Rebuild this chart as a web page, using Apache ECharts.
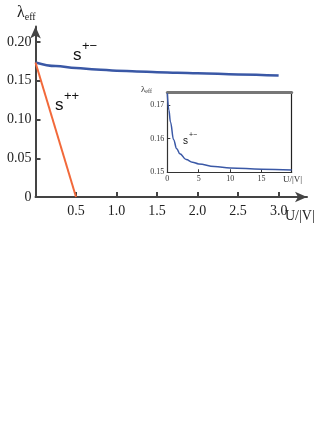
<!DOCTYPE html>
<html>
<head>
<meta charset="utf-8">
<script src="https://cdn.jsdelivr.net/npm/echarts@6/dist/echarts.min.js"></script>
<style>
  html, body { margin: 0; padding: 0; background: #fff; }
  #chart { width: 332px; height: 430px; }
</style>
</head>
<body>
<div id="chart"></div>
<script>
// main panel: lambda_eff vs U/|V|
var mainU = [0, 0.25, 0.5, 0.75, 1.0, 1.25, 1.5, 1.75, 2.0, 2.5, 3.0];
var mainSpm = [0.1736, 0.169, 0.1663, 0.1645, 0.163, 0.162, 0.161, 0.1603, 0.1597, 0.1582, 0.1567];
var sppU = [0, 0.5];
var spp = [0.1736, 0];
var mainXTicks = [0.5, 1.0, 1.5, 2.0, 2.5, 3.0];
var mainYTicks = [0, 0.05, 0.10, 0.15, 0.20];

// inset: wider U range
var insetU = [0, 0.25, 0.5, 1, 1.5, 2, 3, 4, 5, 7.5, 10, 15, 19.8];
var insetSpm = [0.1735, 0.1685, 0.165, 0.1597, 0.157, 0.1555, 0.1538, 0.153, 0.1525, 0.1517, 0.1513, 0.1509, 0.1507];
var insetXTicks = [0, 5, 10, 15];
var insetYTicks = [0.15, 0.16, 0.17];

var serif = '"Liberation Serif", "DejaVu Serif", serif';
var sans = '"Liberation Sans", Arial, sans-serif';
var axisCol = '#444';
var blue = '#3a58a6';
var orange = '#f2693a';

function pairs(xs, ys) {
    return xs.map(function (x, i) { return [x, ys[i]]; });
}

var chart = echarts.init(document.getElementById('chart'));

chart.setOption({
    animation: false,
    grid: [
        { left: 35.5, right: 25, top: 26.5, bottom: 233, containLabel: false, outerBoundsMode: 'none' },
        { left: 167.3, right: 40.3, top: 92.3, bottom: 257.7, containLabel: false, outerBoundsMode: 'none' }
    ],
    xAxis: [
        {
            type: 'value', gridIndex: 0, min: 0, max: 3.35,
            splitLine: { show: false },
            axisLine: { lineStyle: { color: axisCol, width: 2 }, symbol: ['none', 'arrow'], symbolSize: [8, 12] },
            axisTick: { inside: true, length: 5, lineStyle: { color: axisCol, width: 2 }, customValues: mainXTicks },
            axisLabel: {
                customValues: mainXTicks, margin: 7, color: '#222', fontFamily: serif, fontSize: 14,
                formatter: function (v) { return v.toFixed(1); }
            }
        },
        {
            type: 'value', gridIndex: 1, min: 0, max: 19.8,
            splitLine: { show: false },
            axisLine: { onZero: false, lineStyle: { color: '#333', width: 1.2 } },
            axisTick: { inside: true, length: 3, lineStyle: { color: '#333' }, customValues: insetXTicks },
            axisLabel: { customValues: insetXTicks, margin: 3, color: '#333', fontFamily: serif, fontSize: 8 }
        },
        {
            type: 'value', gridIndex: 1, position: 'top', min: 0, max: 19.8,
            splitLine: { show: false }, axisTick: { show: false }, axisLabel: { show: false },
            axisLine: { onZero: false, lineStyle: { color: '#777', width: 3 } }
        }
    ],
    yAxis: [
        {
            type: 'value', gridIndex: 0, min: 0, max: 0.22,
            splitLine: { show: false },
            axisLine: { lineStyle: { color: axisCol, width: 2 }, symbol: ['none', 'arrow'], symbolSize: [8, 12] },
            axisTick: { inside: true, length: 5, lineStyle: { color: axisCol, width: 2 }, customValues: mainYTicks },
            axisLabel: {
                customValues: mainYTicks, margin: 4, color: '#222', fontFamily: serif, fontSize: 14,
                formatter: function (v) { return v === 0 ? '0' : v.toFixed(2); }
            }
        },
        {
            type: 'value', gridIndex: 1, min: 0.15, max: 0.1738,
            splitLine: { show: false },
            axisLine: { onZero: false, lineStyle: { color: '#333', width: 1.2 } },
            axisTick: { inside: true, length: 3, lineStyle: { color: '#333' }, customValues: insetYTicks },
            axisLabel: {
                customValues: insetYTicks, margin: 3, color: '#333', fontFamily: serif, fontSize: 8,
                formatter: function (v) { return v.toFixed(2); }
            }
        },
        {
            type: 'value', gridIndex: 1, position: 'right', min: 0.15, max: 0.1738,
            splitLine: { show: false }, axisTick: { show: false }, axisLabel: { show: false },
            axisLine: { onZero: false, lineStyle: { color: '#222', width: 1.2 } }
        }
    ],
    series: [
        {
            name: 's+-', type: 'line', xAxisIndex: 0, yAxisIndex: 0,
            data: pairs(mainU, mainSpm), smooth: 0.4, smoothMonotone: 'x', showSymbol: false,
            lineStyle: { color: blue, width: 2.5 }
        },
        {
            name: 's++', type: 'line', xAxisIndex: 0, yAxisIndex: 0,
            data: pairs(sppU, spp), showSymbol: false,
            lineStyle: { color: orange, width: 2 }
        },
        {
            name: 'inset s+-', type: 'line', xAxisIndex: 1, yAxisIndex: 1,
            data: pairs(insetU, insetSpm), smooth: 0.4, smoothMonotone: 'x', showSymbol: false,
            lineStyle: { color: blue, width: 1.5 }
        }
    ],
    graphic: [
        // main labels
        { type: 'text', left: 17, top: 5, style: { text: '{l|λ}{s|eff}', rich: {
            l: { fontFamily: serif, fontSize: 16, fill: '#222' },
            s: { fontFamily: serif, fontSize: 10, fill: '#222', padding: [8, 0, 0, 0] } } } },
        { type: 'text', left: 285, top: 209, style: { text: 'U/|V|', fontFamily: serif, fontSize: 14, fill: '#222' } },
        { type: 'text', left: 73, top: 47, style: { text: 's', fontFamily: sans, fontSize: 17, fill: '#111' } },
        { type: 'text', left: 82, top: 40, style: { text: '+−', fontFamily: sans, fontSize: 13, fill: '#111' } },
        { type: 'text', left: 55, top: 97, style: { text: 's', fontFamily: sans, fontSize: 17, fill: '#111' } },
        { type: 'text', left: 64, top: 90, style: { text: '++', fontFamily: sans, fontSize: 13, fill: '#111' } },
        // inset labels
        { type: 'text', left: 141, top: 85, style: { text: '{l|λ}{s|eff}', rich: {
            l: { fontFamily: serif, fontSize: 9, fill: '#333' },
            s: { fontFamily: serif, fontSize: 6, fill: '#333', padding: [4, 0, 0, 0] } } } },
        { type: 'text', left: 283, top: 175, style: { text: 'U/|V|', fontFamily: serif, fontSize: 9, fill: '#333' } },
        { type: 'text', left: 183, top: 136, style: { text: 's', fontFamily: sans, fontSize: 10, fill: '#111' } },
        { type: 'text', left: 189, top: 132, style: { text: '+−', fontFamily: sans, fontSize: 7, fill: '#111' } }
    ]
});
</script>
</body>
</html>
